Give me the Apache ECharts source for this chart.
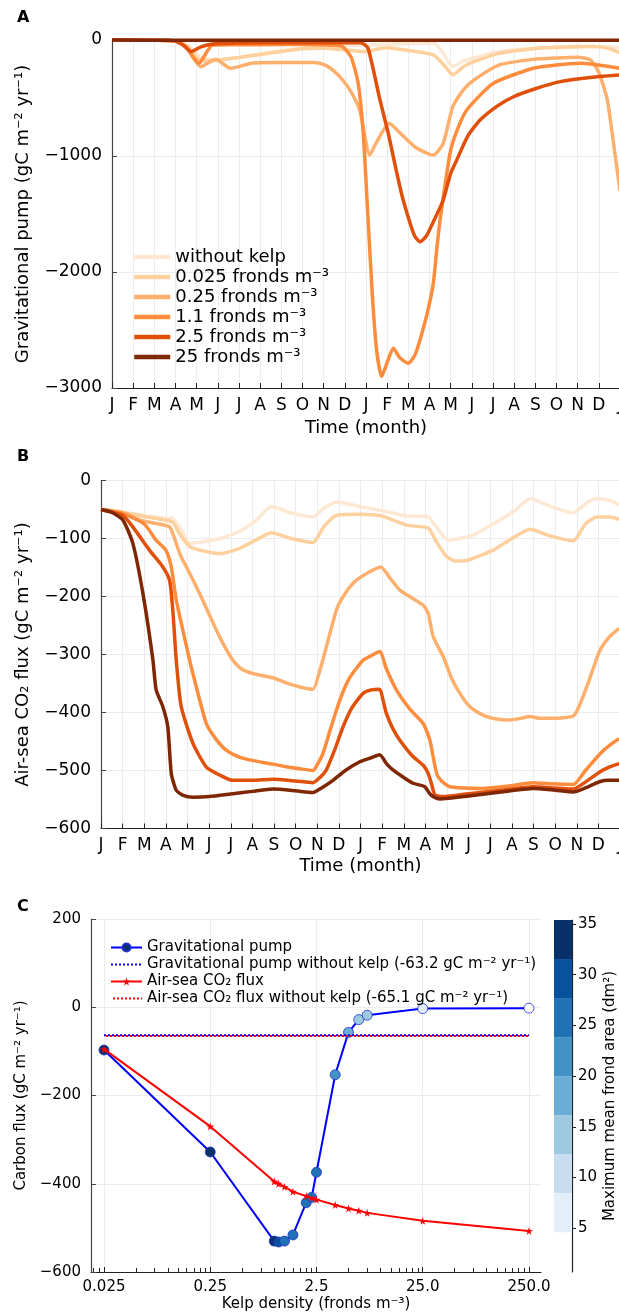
<!DOCTYPE html>
<html><head><meta charset="utf-8">
<script src="https://cdn.jsdelivr.net/npm/echarts@6/dist/echarts.min.js"></script>
<style>html,body{margin:0;padding:0;background:#fff}#c{width:619px;height:1314px}</style>
</head><body><div id="c"></div>
<script>
// ---------- DATA ----------
const monthLabels = ['J','F','M','A','M','J','J','A','S','O','N','D'];
const seriesNames = ['without kelp','0.025 fronds m\u207B\u00B3','0.25 fronds m\u207B\u00B3','1.1 fronds m\u207B\u00B3','2.5 fronds m\u207B\u00B3','25 fronds m\u207B\u00B3'];

// Panel A: gravitational pump [month, gC m-2 yr-1]
const pumpNoKelp = [[0,0],[2,-2],[3,-8],[3.6,-50],[4.2,-150],[4.9,-175],[5.6,-160],[6.6,-130],[7.5,-105],[8.5,-80],[9.5,-60],[10.5,-52],[11.5,-45],[12.5,-40],[13.5,-35],[14.5,-30],[15.2,-25],[15.6,-100],[16.1,-230],[16.6,-180],[17.2,-150],[18,-110],[19,-85],[20,-70],[21,-60],[22,-52],[23,-55],[24,-65]];
const pump0025 = [[0,0],[2,-2],[3,-8],[3.6,-60],[4.1,-170],[4.5,-180],[5,-172],[6,-150],[7,-125],[8,-100],[9,-75],[10,-72],[11,-85],[12,-100],[12.5,-80],[13,-66],[14,-90],[15.2,-130],[15.7,-220],[16.1,-300],[16.6,-230],[17.1,-187],[18.3,-115],[19.9,-75],[21,-65],[22.7,-57],[23.4,-70],[24,-110]];
const pump025 = [[0,0],[2,-2],[3,-8],[3.5,-60],[4.2,-230],[4.9,-167],[5.6,-244],[6.6,-200],[8,-195],[9.5,-195],[10.05,-215],[10.5,-270],[10.9,-345],[11.3,-450],[11.7,-603],[12.18,-991],[12.5,-880],[13.1,-718],[13.6,-800],[14.3,-920],[15.0,-985],[15.2,-991],[15.65,-891],[16.1,-575],[16.6,-430],[17.1,-345],[18.3,-215],[19.9,-167],[21,-155],[22,-149],[22.6,-172],[23,-280],[23.4,-517],[23.7,-900],[24,-1300]];
const pump11 = [[0,0],[2,-2],[3,-8],[3.5,-60],[4.1,-200],[4.75,-43],[5.5,-40],[7,-40],[9,-38],[10.5,-45],[10.9,-57],[11.3,-150],[11.63,-373],[11.87,-805],[12.1,-1552],[12.3,-2200],[12.5,-2672],[12.74,-2900],[13.0,-2780],[13.29,-2658],[13.6,-2740],[14.0,-2787],[14.3,-2720],[14.55,-2586],[14.9,-2350],[15.18,-2098],[15.34,-1810],[15.5,-1552],[15.97,-977],[16.3,-780],[16.76,-603],[18.02,-373],[19.9,-244],[21,-215],[22.13,-201],[23,-215],[24,-244]];
const pump25 = [[0,0],[2,-2],[3,-8],[3.4,-50],[3.74,-100],[4.2,-60],[4.75,-35],[6,-25],[8,-23],[10,-23],[11.73,-23],[11.9,-35],[12.1,-72],[12.4,-300],[12.66,-517],[13.05,-803],[13.4,-1100],[13.7,-1340],[14.05,-1560],[14.3,-1690],[14.55,-1739],[14.85,-1690],[15.2,-1560],[15.65,-1379],[16.0,-1150],[16.29,-1034],[16.8,-830],[17.39,-690],[18.2,-570],[18.97,-489],[20,-420],[21.18,-359],[22.5,-325],[24,-302]];
const pump250 = [[0,0],[3,-2],[6,-2],[12,-2],[18,-2],[24,-2]];

// Panel B: air-sea CO2 flux [month, gC m-2 yr-1]
const fluxNoKelp = [[0,-50],[1,-55],[2,-60],[3.1,-66],[3.3,-65],[3.7,-85],[4.1,-108],[4.8,-105],[5.49,-100],[6.41,-88],[7.2,-68],[7.88,-45],[8.8,-56],[9.8,-63],[10.3,-48],[10.89,-37],[11.4,-40],[11.97,-45],[13,-52],[14.13,-61],[15.1,-62],[15.5,-80],[16.06,-103],[17.21,-94],[18.45,-68],[19.2,-50],[19.84,-31],[20.8,-45],[21.84,-56],[22.4,-40],[22.93,-31],[23.5,-34],[24,-42]];
const flux0025 = [[0,-50],[1,-55],[2,-62],[3.32,-72],[3.6,-90],[4.1,-114],[4.8,-122],[5.49,-126],[6.41,-117],[7.2,-102],[7.88,-90],[8.8,-100],[9.8,-107],[10.3,-80],[10.89,-60],[11.97,-58],[12.97,-61],[14.13,-77],[15.13,-82],[15.5,-105],[15.98,-131],[16.4,-139],[16.91,-138],[18.14,-120],[19.0,-100],[19.84,-84],[20.8,-96],[21.84,-104],[22.4,-75],[22.93,-63],[23.5,-63],[24,-67]];
const flux025 = [[0,-50],[1,-55],[1.78,-68],[2.5,-74],[3.17,-80],[3.4,-100],[3.64,-126],[4.1,-160],[4.56,-195],[5.49,-270],[6.1,-310],[6.5,-325],[7.03,-333],[7.95,-340],[8.5,-348],[9.2,-356],[9.8,-360],[10.1,-330],[10.42,-287],[10.89,-223],[11.2,-200],[11.66,-177],[12.3,-160],[12.94,-149],[13.4,-170],[13.82,-189],[14.4,-203],[14.9,-215],[15.13,-229],[15.36,-269],[15.83,-304],[16.2,-340],[16.6,-367],[17.0,-388],[17.52,-402],[18.1,-410],[18.76,-413],[19.3,-411],[19.84,-407],[20.3,-410],[20.92,-410],[21.84,-406],[22.1,-390],[22.46,-356],[22.8,-320],[23.08,-292],[23.5,-270],[23.96,-255]];
const flux11 = [[0,-50],[1,-57],[2,-75],[2.55,-103],[3.0,-120],[3.25,-149],[3.48,-206],[4.1,-310],[4.25,-333],[4.87,-419],[5.3,-445],[5.79,-465],[6.4,-477],[7.03,-483],[7.95,-489],[8.5,-493],[9.2,-497],[9.8,-500],[10.0,-490],[10.27,-470],[10.6,-430],[11.04,-379],[11.5,-340],[12.12,-310],[12.5,-302],[12.89,-295],[13.2,-325],[13.66,-361],[14.3,-395],[14.9,-419],[15.21,-448],[15.52,-505],[15.8,-520],[16.13,-528],[17.67,-531],[18.8,-527],[19.99,-521],[20.8,-523],[21.84,-524],[22.4,-500],[23.08,-471],[23.5,-457],[23.96,-445]];
const flux25 = [[0,-50],[1,-60],[1.47,-80],[2.24,-120],[2.86,-149],[3.17,-172],[3.32,-223],[3.48,-310],[3.71,-390],[4.25,-453],[4.87,-494],[5.5,-508],[6.1,-517],[7.0,-517],[7.95,-515],[9.0,-518],[9.8,-521],[10.1,-513],[10.42,-499],[10.8,-465],[11.19,-425],[11.6,-392],[12.12,-367],[12.5,-361],[12.89,-360],[13.05,-380],[13.2,-402],[13.5,-428],[13.82,-448],[14.4,-475],[14.9,-491],[15.13,-505],[15.3,-525],[15.44,-542],[15.83,-545],[17,-540],[18.5,-534],[19.99,-528],[20.9,-530],[21.84,-532],[22.4,-520],[23.08,-502],[23.5,-494],[23.96,-488]];
const flux250 = [[0,-50],[0.5,-55],[1.01,-68],[1.47,-108],[1.94,-195],[2.4,-309],[2.55,-361],[2.86,-390],[3.09,-425],[3.25,-505],[3.48,-534],[3.8,-543],[4.25,-546],[5,-545],[6.1,-540],[7,-536],[7.95,-532],[9,-535],[9.8,-538],[10.2,-530],[10.73,-517],[11.3,-500],[11.97,-485],[12.5,-478],[12.89,-473],[13.2,-488],[13.5,-499],[14,-512],[14.43,-522],[14.97,-528],[15.2,-540],[15.36,-545],[15.67,-549],[17,-544],[18.5,-537],[19.99,-531],[21,-534],[21.84,-537],[22.4,-530],[23.08,-519],[23.5,-517],[23.96,-517]];

// Panel C
const kelpDensity = [0.025,0.25,1.0,1.1,1.25,1.5,2.0,2.25,2.5,3.75,5.0,6.25,7.5,25,250];
const gravPump    = [-97,-328,-530,-532,-530,-516,-443,-431,-374,-153,-57,-28,-18,-3,-2];
const airSeaFlux  = [-95,-270,-395,-400,-407,-418,-428,-432,-436,-448,-456,-461,-466,-484,-507];
const frondArea   = [34,33,32,30,27,26,25,25,25,21,19,15,13,6,2];
const gravPumpNoKelp = -63.2;
const airSeaNoKelp = -65.1;
const cTickValues = [0.025,0.25,2.5,25,250];
const cTickLabels = ['0.025','0.25','2.5','25.0','250.0'];
const cbEdges = [4.6,8.45,12.3,16.15,20.0,23.85,27.7,31.55,35.4];
const cbTicks = [5,10,15,20,25,30,35];

// ---------- STYLE ----------
const orangeColors = ['#fde9d3','#fdd09e','#fdb06e','#fd8d3c','#e0500a','#7f2704'];
const bluesColors = ['#e3eef9','#c9ddf0','#9ecae1','#6aaed6','#4292c6','#2171b5','#08519c','#08306b'];
const FONT = 'DejaVu Sans';

const minus = v => (v < 0 ? '\u2212' + Math.abs(v) : String(v));
const lg = v => Math.log10(v);
function bandColor(a) {
  for (let i = 0; i < cbEdges.length - 1; i++) if (a >= cbEdges[i] && a <= cbEdges[i+1]) return bluesColors[i];
  return '#ffffff';
}
const minorTicks = [];
[0.0025,0.025,0.25,2.5,25,250].forEach(d => { for (let k = 2; k <= 9; k++) minorTicks.push(lg(k*d)); });
const cMin = -1.7245, cMax = 2.511;
const minorIn = minorTicks.filter(v => v > cMin && v < cMax);

const gridLine = {show:true, lineStyle:{color:'#ececec', width:1}};
function monthAxis(gi, nameGap) {
  return {type:'value', gridIndex:gi, min:0, max:24, interval:1,
    name:'Time (month)', nameLocation:'middle', nameGap:nameGap,
    nameTextStyle:{fontSize:18, color:'#000', fontFamily:FONT},
    axisLine:{show:true, onZero:false, lineStyle:{color:'#222', width:1.2}},
    axisTick:{show:true, inside:true, length:5, lineStyle:{color:'#222'}},
    axisLabel:{fontSize:17, color:'#000', margin:9, fontFamily:FONT, formatter: v => monthLabels[Math.round(v) % 12]},
    splitLine:gridLine};
}
function yAx(gi, min, max, interval, name, nameGap, fs, lfs) {
  return {type:'value', gridIndex:gi, min:min, max:max, interval:interval,
    name:name, nameLocation:'middle', nameGap:nameGap,
    nameTextStyle:{fontSize:fs, color:'#000', fontFamily:FONT},
    axisLine:{show:true, onZero:false, lineStyle:{color:'#444', width:1.2}},
    axisTick:{show:true, inside:true, length:5, lineStyle:{color:'#444'}},
    axisLabel:{fontSize:lfs, color:'#000', margin:10, fontFamily:FONT, formatter:minus},
    splitLine:gridLine};
}

const pumpData = [pumpNoKelp,pump0025,pump025,pump11,pump25,pump250];
const fluxData = [fluxNoKelp,flux0025,flux025,flux11,flux25,flux250];

const series = [];
pumpData.forEach((d,i) => series.push({type:'line', name:seriesNames[i], xAxisIndex:0, yAxisIndex:0, data:d,
  showSymbol:false, symbol:'none', smooth:0.2, clip:false,
  lineStyle:{color:orangeColors[i], width:3.5}, itemStyle:{color:orangeColors[i]}, z:2+i}));
fluxData.forEach((d,i) => series.push({type:'line', name:seriesNames[i], xAxisIndex:1, yAxisIndex:1, data:d,
  showSymbol:false, symbol:'none', smooth:0.2,
  lineStyle:{color:orangeColors[i], width:3.5}, itemStyle:{color:orangeColors[i]}, z:2+i}));

const cNames = ['Gravitational pump','Gravitational pump without kelp (-63.2 gC m\u207B\u00B2 yr\u207B\u00B9)','Air-sea CO\u2082 flux','Air-sea CO\u2082 flux without kelp (-65.1 gC m\u207B\u00B2 yr\u207B\u00B9)'];
const star = 'path://M50,0 L61,35 L98,35 L68,57 L79,91 L50,70 L21,91 L32,57 L2,35 L39,35 Z';
const xEnds = [kelpDensity[0], kelpDensity[kelpDensity.length-1]];

series.push({type:'line', name:cNames[0], xAxisIndex:2, yAxisIndex:2,
  data: kelpDensity.map((x,i) => ({value:[lg(x), gravPump[i]], itemStyle:{color:bandColor(frondArea[i])}})),
  symbol:'circle', symbolSize:10, showAllSymbol:true,
  lineStyle:{color:'#0000ff', width:2}, itemStyle:{color:'#08306b', borderColor:'#2030d0', borderWidth:0.8}, z:3});
series.push({type:'line', name:cNames[1], xAxisIndex:2, yAxisIndex:2,
  data: xEnds.map(x => [lg(x), gravPumpNoKelp]), symbol:'none', showSymbol:false,
  lineStyle:{color:'#0000ff', width:2, type:[2,2]}, itemStyle:{color:'#0000ff'}, z:4});
series.push({type:'line', name:cNames[2], xAxisIndex:2, yAxisIndex:2,
  data: kelpDensity.map((x,i) => [lg(x), airSeaFlux[i]]),
  symbol:star, symbolSize:8, showAllSymbol:true,
  lineStyle:{color:'#ff0000', width:2}, itemStyle:{color:'#ff0000'}, z:5});
series.push({type:'line', name:cNames[3], xAxisIndex:2, yAxisIndex:2,
  data: xEnds.map(x => [lg(x), airSeaNoKelp]), symbol:'none', showSymbol:false,
  lineStyle:{color:'#ff0000', width:2, type:[2,2], dashOffset:2}, itemStyle:{color:'#ff0000'}, z:6});

// colorbar
series.push({type:'bar', xAxisIndex:4, yAxisIndex:3, stack:'cb', barWidth:'100%', data:[cbEdges[0]],
  itemStyle:{color:'rgba(0,0,0,0)'}, silent:true});
for (let i = 0; i < cbEdges.length - 1; i++) {
  series.push({type:'bar', xAxisIndex:4, yAxisIndex:3, stack:'cb', barWidth:'100%',
    data:[+(cbEdges[i+1]-cbEdges[i]).toFixed(3)], itemStyle:{color:bluesColors[i]}, silent:true});
}

const majorC = cTickValues.map(lg);
const noSym = {opacity:0};
const option = {
  animation:false,
  backgroundColor:'#fff',
  textStyle:{fontFamily:FONT},
  grid:[
    {left:112, top:40, width:508, height:348, outerBoundsMode:'none', containLabel:false},
    {left:101, top:480.5, width:519, height:348, outerBoundsMode:'none', containLabel:false},
    {left:91, top:919, width:450, height:353, outerBoundsMode:'none', containLabel:false},
    {left:554, top:920, width:18, height:352, outerBoundsMode:'none', containLabel:false}
  ],
  legend:[
    {data:seriesNames.map(n => ({name:n, itemStyle:noSym, lineStyle:{width:4.5}})),
     orient:'vertical', left:132, top:248, padding:0, itemGap:2, itemWidth:36, itemHeight:12,
     textStyle:{fontSize:18, color:'#000', fontFamily:FONT}},
    {data:[{name:cNames[0]}, {name:cNames[1], itemStyle:noSym}, {name:cNames[2]}, {name:cNames[3], itemStyle:noSym}],
     orient:'vertical', left:110, top:940, padding:0, itemGap:2, itemWidth:31, itemHeight:10,
     textStyle:{fontSize:15, color:'#000', fontFamily:FONT}}
  ],
  xAxis:[
    monthAxis(0, 31),
    monthAxis(1, 29),
    {type:'value', gridIndex:2, min:cMin, max:cMax,
     name:'Kelp density (fronds m\u207B\u00B3)', nameLocation:'middle', nameGap:25,
     nameTextStyle:{fontSize:15, color:'#000', fontFamily:FONT},
     axisLine:{show:true, onZero:false, lineStyle:{color:'#222', width:1.2}},
     axisTick:{show:true, inside:true, length:5, customValues:majorC, lineStyle:{color:'#222'}},
     axisLabel:{fontSize:15, color:'#000', margin:8, fontFamily:FONT, customValues:majorC,
       formatter: v => { const i = majorC.findIndex(m => Math.abs(m - v) < 1e-6); return i >= 0 ? cTickLabels[i] : ''; }},
     splitLine:gridLine},
    {type:'value', gridIndex:2, min:cMin, max:cMax, position:'bottom',
     axisLine:{show:false, onZero:false}, axisLabel:{show:false}, splitLine:{show:false},
     axisTick:{show:true, inside:true, length:4, customValues:minorIn, lineStyle:{color:'#222'}}},
    {type:'category', gridIndex:3, data:['cb'], show:false}
  ],
  yAxis:[
    yAx(0, -3000, 0, 1000, 'Gravitational pump (gC m\u207B\u00B2 yr\u207B\u00B9)', 80, 18, 17),
    yAx(1, -600, 0, 100, 'Air-sea CO\u2082 flux (gC m\u207B\u00B2 yr\u207B\u00B9)', 69, 18, 17),
    yAx(2, -600, 200, 200, 'Carbon flux (gC m\u207B\u00B2 yr\u207B\u00B9)', 61, 15, 15),
    {type:'value', gridIndex:3, position:'right', min:0.68, max:35.4,
     name:'Maximum mean frond area (dm\u00B2)', nameLocation:'middle', nameGap:31,
     nameTextStyle:{fontSize:15, color:'#000', fontFamily:FONT},
     axisLine:{show:true, onZero:false, lineStyle:{color:'#222', width:1.2}},
     axisTick:{show:true, inside:false, length:4, customValues:cbTicks, lineStyle:{color:'#222'}},
     axisLabel:{fontSize:15, color:'#000', margin:6, fontFamily:FONT, customValues:cbTicks},
     splitLine:{show:false}}
  ],
  graphic:[
    {type:'text', x:17, y:18, style:{text:'A', font:'bold 16px "DejaVu Sans"', fill:'#000', textVerticalAlign:'middle'}},
    {type:'text', x:17, y:457, style:{text:'B', font:'bold 16px "DejaVu Sans"', fill:'#000', textVerticalAlign:'middle'}},
    {type:'text', x:17, y:907, style:{text:'C', font:'bold 16px "DejaVu Sans"', fill:'#000', textVerticalAlign:'middle'}}
  ],
  series:series
};
const chart = echarts.init(document.getElementById('c'), null, {renderer:'canvas'});
chart.setOption(option);
</script>
</body></html>
